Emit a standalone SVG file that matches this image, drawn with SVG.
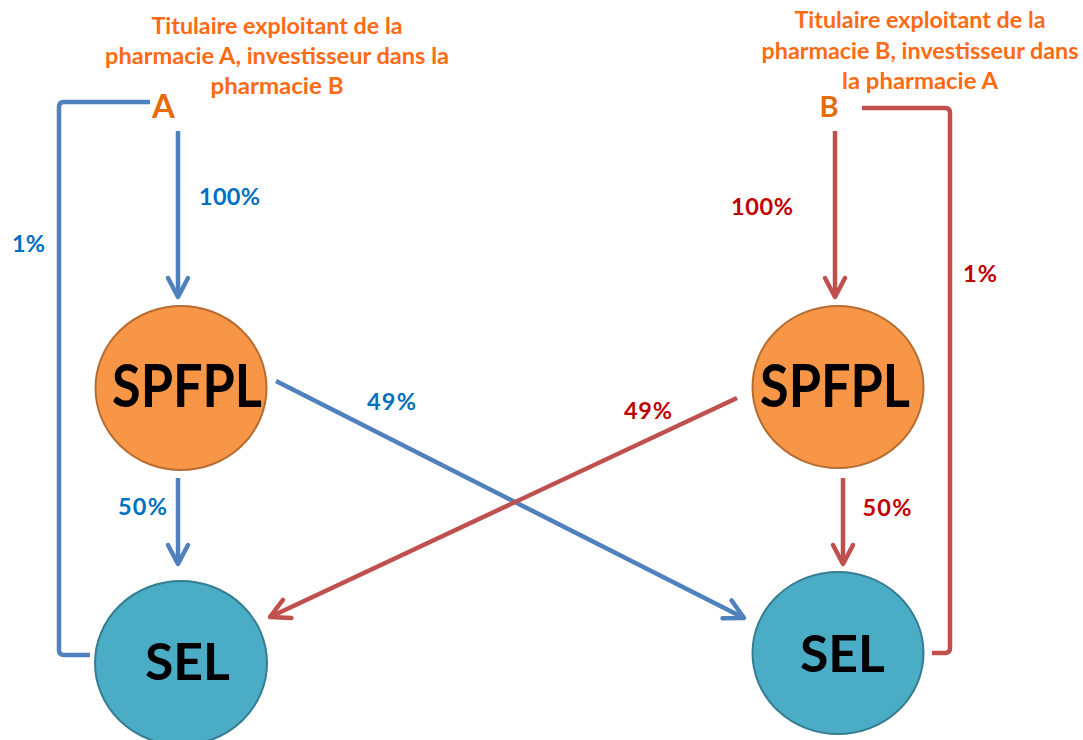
<svg xmlns="http://www.w3.org/2000/svg" width="1083" height="740" viewBox="0 0 1083 740">
  <style>
    text { font-family: Lato, "Open Sans", "Liberation Sans", sans-serif; font-weight: bold; text-anchor: middle; }
    .title { font-size: 22px; fill: #FF6A13; }
    .owner { fill: #E46C0A; }
    .pct-a { font-size: 23.5px; fill: #0070C0; }
    .pct-b { font-size: 23.5px; fill: #C00000; }
    .spfpl ellipse { fill: #F79646; stroke: #B66D31; stroke-width: 2; }
    .sel ellipse { fill: #4BACC6; stroke: #357D91; stroke-width: 2; }
    .big { fill: #000; }
    .link { fill: none; stroke-width: 4.5; stroke-linejoin: round; }
    .blue { stroke: #4F81BD; }
    .red { stroke: #C0504D; }
  </style>
  <defs>
    <marker id="arrow-blue" markerUnits="userSpaceOnUse" viewBox="-24 -14 28 28" markerWidth="28" markerHeight="28" refX="0" refY="0" orient="auto">
      <path d="M-19,-10 L0,0 L-19,10" fill="none" stroke="#4F81BD" stroke-width="4.5" stroke-linecap="round" stroke-linejoin="round"/>
    </marker>
    <marker id="arrow-red" markerUnits="userSpaceOnUse" viewBox="-24 -14 28 28" markerWidth="28" markerHeight="28" refX="0" refY="0" orient="auto">
      <path d="M-19,-10 L0,0 L-19,10" fill="none" stroke="#C0504D" stroke-width="4.5" stroke-linecap="round" stroke-linejoin="round"/>
    </marker>
  </defs>

  <!-- connectors -->
  <g id="connectors">
    <path class="link blue" d="M150,102 L64,102 Q59,102 59,107 L59,650 Q59,655 64,655 L90,655"/>
    <path class="link red" d="M862,108 L945,108 Q950,108 950,113 L950,648 Q950,653 945,653 L932,653"/>
    <path class="link blue" d="M178,131 L178,297" marker-end="url(#arrow-blue)"/>
    <path class="link red" d="M835,131 L835,297" marker-end="url(#arrow-red)"/>
    <path class="link blue" d="M178,478 L178,564" marker-end="url(#arrow-blue)"/>
    <path class="link red" d="M843,478 L843,564" marker-end="url(#arrow-red)"/>
    <path class="link blue" d="M276,381 L744,618" marker-end="url(#arrow-blue)"/>
    <path class="link red" d="M737,398 L270,617" marker-end="url(#arrow-red)"/>

    <text class="pct-a" x="229.5" y="205" textLength="61">100%</text>
    <text class="pct-a" x="28.5" y="252" textLength="33">1%</text>
    <text class="pct-a" x="391.5" y="410" textLength="49">49%</text>
    <text class="pct-a" x="142.5" y="515" textLength="49">50%</text>
    <text class="pct-b" x="762" y="215" textLength="62">100%</text>
    <text class="pct-b" x="980" y="282" textLength="34">1%</text>
    <text class="pct-b" x="648" y="419" textLength="48">49%</text>
    <text class="pct-b" x="887" y="516" textLength="49">50%</text>
  </g>

  <!-- owners -->
  <g id="owner-a">
    <text class="title" x="277" y="34" textLength="251" lengthAdjust="spacingAndGlyphs">Titulaire exploitant de la</text>
    <text class="title" x="277" y="64" textLength="344" lengthAdjust="spacingAndGlyphs">pharmacie A, investisseur dans la</text>
    <text class="title" x="277" y="94" textLength="133" lengthAdjust="spacingAndGlyphs">pharmacie B</text>
    <text class="owner" x="163.5" y="118" font-size="33">A</text>
  </g>
  <g id="owner-b">
    <text class="title" x="920" y="28" textLength="251" lengthAdjust="spacingAndGlyphs">Titulaire exploitant de la</text>
    <text class="title" x="920" y="59" textLength="317" lengthAdjust="spacingAndGlyphs">pharmacie B, investisseur dans</text>
    <text class="title" x="920" y="89" textLength="156" lengthAdjust="spacingAndGlyphs">la pharmacie A</text>
    <text class="owner" x="829" y="117" font-size="29">B</text>
  </g>

  <!-- holding companies -->
  <g id="spfpl-a" class="spfpl">
    <ellipse cx="181" cy="388" rx="85.5" ry="82"/>
    <text class="big" x="187" y="407" font-size="58.5" textLength="150" lengthAdjust="spacingAndGlyphs">SPFPL</text>
  </g>
  <g id="spfpl-b" class="spfpl">
    <ellipse cx="838" cy="387" rx="85.5" ry="81"/>
    <text class="big" x="835" y="407" font-size="58.5" textLength="150" lengthAdjust="spacingAndGlyphs">SPFPL</text>
  </g>

  <!-- operating companies -->
  <g id="sel-a" class="sel">
    <ellipse cx="181" cy="663" rx="86" ry="82"/>
    <text class="big" x="187.5" y="680" font-size="52.5" textLength="85" lengthAdjust="spacingAndGlyphs">SEL</text>
  </g>
  <g id="sel-b" class="sel">
    <ellipse cx="838" cy="653" rx="85.5" ry="81"/>
    <text class="big" x="842.5" y="672" font-size="52.5" textLength="85" lengthAdjust="spacingAndGlyphs">SEL</text>
  </g>
</svg>
